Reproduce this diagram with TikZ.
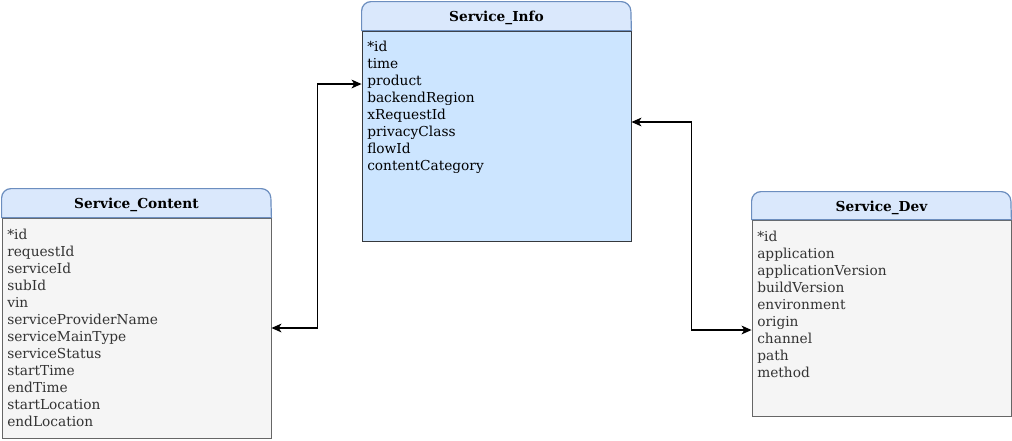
\documentclass[tikz,border=0pt]{standalone}
\usepackage{fontspec}
\setmainfont{DejaVu Serif}
\usetikzlibrary{positioning,arrows.meta}

\definecolor{hdrfill}{HTML}{DAE8FC}
\definecolor{hdrline}{HTML}{6C8EBF}
\definecolor{infofill}{HTML}{CCE5FF}
\definecolor{infoline}{HTML}{36393D}
\definecolor{bodyfill}{HTML}{F5F5F5}
\definecolor{bodyline}{HTML}{666666}
\definecolor{bodytext}{HTML}{333333}

\tikzset{
  hdr/.style={draw=hdrline,fill=hdrfill,line width=0.9pt},
  title/.style={font=\fontsize{10.3}{12.75}\selectfont\bfseries,inner sep=0pt},
  infobody/.style={draw=infoline,fill=infofill,line width=0.6pt,inner sep=0pt},
  tblbody/.style={draw=bodyline,fill=bodyfill,line width=0.6pt,inner sep=0pt},
  fields/.style={anchor=north west,align=left,inner sep=0pt,
    font=\fontsize{10.3}{12.75}\selectfont},
  link/.style={<->,line width=1.3pt},
}

\begin{document}
\begin{tikzpicture}[>={Stealth[length=7.5pt,width=6.5pt,inset=2pt]},x=0.75pt,y=-0.75pt]

\useasboundingbox (0,0) rectangle (1012,440);

% table bodies
\node [infobody,minimum width=201.75pt,minimum height=157.5pt] (info) at (496.5,136) {};
\node [tblbody,minimum width=201.75pt,minimum height=165pt] (content) at (136.5,328) {};
\node [tblbody,minimum width=194.25pt,minimum height=147pt] (dev) at (881.5,318) {};

% headers
\path [hdr] (info.north west) [rounded corners=7pt] -- ++(0,-29) -- ++(269,0) [sharp corners] -- (info.north east) -- cycle;
\path [hdr] (content.north west) [rounded corners=7pt] -- ++(0,-29) -- ++(269,0) [sharp corners] -- (content.north east) -- cycle;
\path [hdr] (dev.north west) [rounded corners=7pt] -- ++(0,-28) -- ++(259,0) [sharp corners] -- (dev.north east) -- cycle;

\node [title] (infotitle) at (496.5,18) {Service\_Info};
\node [title] (contenttitle) at (136.5,205) {Service\_Content};
\node [title] (devtitle) at (881.5,207.5) {Service\_Dev};

% fields
\node [fields] (infofields) at (367,41) {*id\\time\\product\\backendRegion\\xRequestId\\privacyClass\\flowId\\contentCategory};
\node [fields,text=bodytext] (contentfields) at (7,229) {*id\\requestId\\serviceId\\subId\\vin\\serviceProviderName\\serviceMainType\\serviceStatus\\startTime\\endTime\\startLocation\\endLocation};
\node [fields,text=bodytext] (devfields) at (757,231) {*id\\application\\applicationVersion\\buildVersion\\environment\\origin\\channel\\path\\method};

% links
\path [draw,link] (content.east) -- ++(46,0) |- ([yshift=39pt]info.west);
\path [draw,link] ([yshift=10.5pt]info.east) -- ++(60,0) |- ([yshift=-9pt]dev.west);

\end{tikzpicture}
\end{document}
